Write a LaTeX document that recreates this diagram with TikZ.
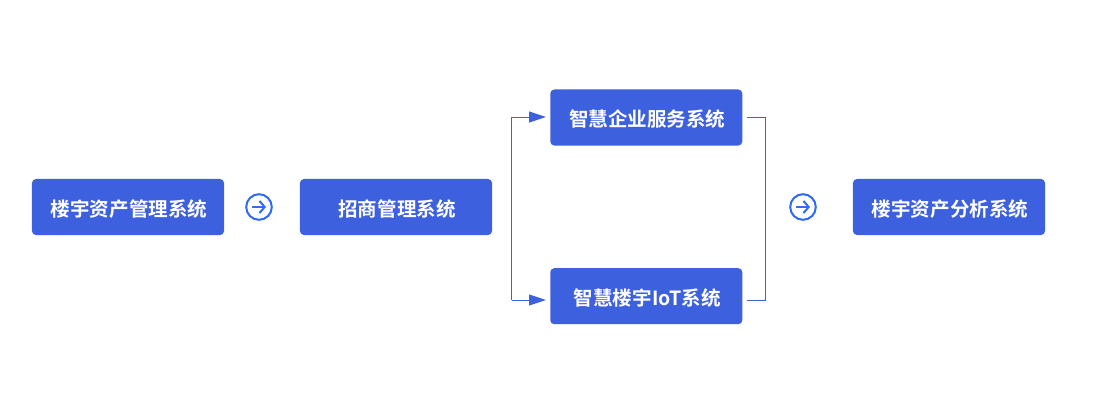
\documentclass[tikz,border=0pt]{standalone}
\usepackage{xcolor}
\usepackage{fontspec}
\usepackage{tikz}
\usetikzlibrary{arrows.meta,positioning,calc}
\newfontfamily\cjk{Noto Sans CJK SC}[BoldFont={* Bold}]
\definecolor{boxblue}{HTML}{3D60DF}
\definecolor{iconblue}{HTML}{2F6BF5}
\newcommand{\boxlabel}[1]{\hspace*{0.05cm}\raisebox{-0.04cm}[\height][\depth]{#1}}

\begin{document}
\begin{tikzpicture}[
    x=0.025cm, y=-0.025cm,
    box/.style={fill=boxblue, rounded corners=0.1cm, minimum width=4.8cm, minimum height=1.4cm, align=center, inner sep=0pt, text=white, font=\cjk\bfseries\fontsize{13.9}{16}\selectfont},
    icon/.style={draw=iconblue, circle, line width=0.05cm, minimum size=0.64cm, inner sep=0pt},
    iconarrow/.style={-{Straight Barb[length=0.13cm,width=0.3cm]}, draw=iconblue, line width=0.05cm},
    arrow/.style={-{Triangle[length=0.42cm,width=0.27cm]}, draw=boxblue, line width=0.025cm, shorten >=0.1cm},
    bracket/.style={draw=boxblue, line width=0.025cm}
]
\useasboundingbox (0,0) rectangle (1100,414);
\node[box] (asset) at (128,207) {\boxlabel{楼宇资产管理系统}};
\node[box] (invest) at (396,207) {\boxlabel{招商管理系统}};
\node[box] (service) at (646.300,117.500) {\boxlabel{智慧企业服务系统}};
\node[box] (iot) at (646.300,296.200) {\boxlabel{智慧楼宇IoT系统}};
\node[box] (analysis) at (949,207) {\boxlabel{楼宇资产分析系统}};

\node[icon] (iconA) at (259,207) {};
\node[icon] (iconB) at (803,207) {};
\draw[iconarrow] ($(iconA.center)+(-7,0)$) -- ($(iconA.center)+(7,0)$);
\draw[iconarrow] ($(iconB.center)+(-7,0)$) -- ($(iconB.center)+(7,0)$);

\coordinate (splitTop) at (511.500,117);
\coordinate (splitBottom) at (511.500,300);
\coordinate (joinTop) at (765.500,117);
\coordinate (joinBottom) at (765.500,300);
\coordinate (serviceOut) at (747,117);
\coordinate (iotOut) at (747,300);
\coordinate (serviceIn) at (550,117);
\coordinate (iotIn) at (550,300);

\draw[bracket] (splitTop) -- (splitBottom);
\draw[arrow] (splitTop) -- (serviceIn);
\draw[arrow] (splitBottom) -- (iotIn);
\draw[bracket] (serviceOut) -- (joinTop) -- (joinBottom) -- (iotOut);
\end{tikzpicture}
\end{document}
